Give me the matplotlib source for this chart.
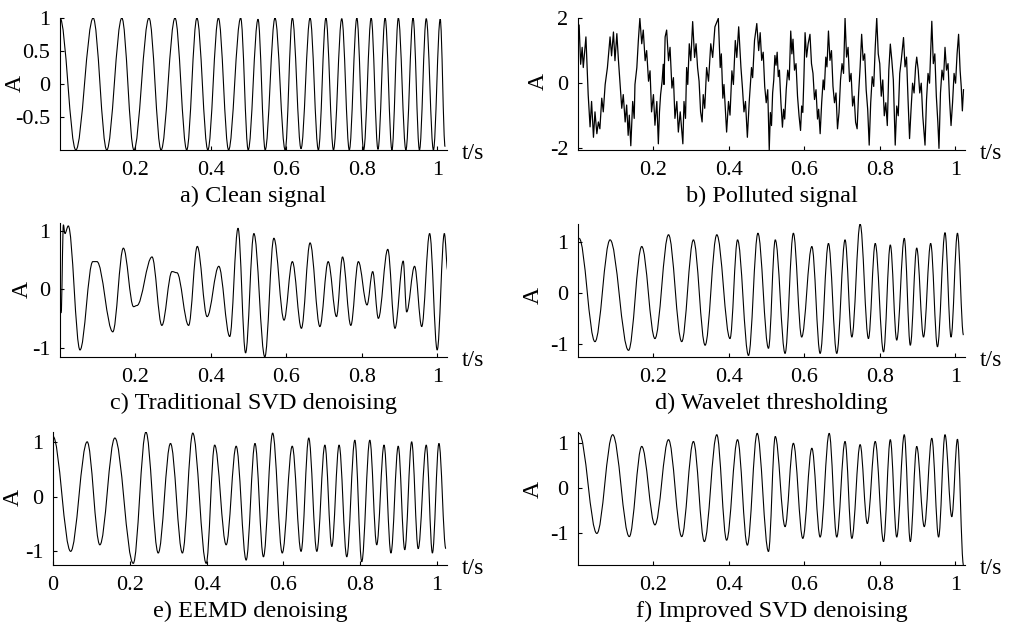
import matplotlib
matplotlib.use('Agg')
import matplotlib.pyplot as plt
from matplotlib.path import Path
from matplotlib.patches import PathPatch

plt.rcParams['font.family'] = ['Liberation Serif', 'DejaVu Serif']
plt.rcParams['font.size'] = 16

# a) clean signal: peak / trough times and amplitudes
t_clean = [0, 0.042, 0.088, 0.124, 0.164, 0.196, 0.236, 0.268, 0.305, 0.336, 0.363, 0.392,
           0.420, 0.447, 0.479, 0.499, 0.525, 0.544, 0.570, 0.597, 0.616, 0.639, 0.663, 0.685,
           0.705, 0.725, 0.747, 0.767, 0.787, 0.805, 0.825, 0.843, 0.862, 0.880, 0.897, 0.917,
           0.936, 0.953, 0.971, 0.990, 1.008, 1.021]
a_clean = [1.0, -1.0, 1.0, -1.0, 1.0, -1.0, 1.0, -1.0, 1.0, -1.0, 1.0, -1.0,
           1.0, -1.0, 1.0, -1.0, 0.98, -1.0, 1.0, -1.0, 1.0, -0.98, 1.0, -1.0,
           1.0, -1.0, 0.99, -1.0, 1.0, -1.0, 1.0, -0.99, 1.0, -1.0, 1.0, -1.0,
           1.0, -1.0, 0.99, -1.0, 0.98, -0.95]

# b) polluted signal
t_polluted = [0.003, 0.007, 0.011, 0.014, 0.021, 0.027, 0.032, 0.036, 0.041, 0.045, 0.050, 0.054,
              0.058, 0.063, 0.067, 0.072, 0.078, 0.085, 0.089, 0.094, 0.098, 0.103, 0.107, 0.111,
              0.116, 0.120, 0.125, 0.129, 0.133, 0.136, 0.140, 0.145, 0.149, 0.151, 0.156, 0.160,
              0.164, 0.169, 0.173, 0.178, 0.182, 0.187, 0.191, 0.195, 0.200, 0.204, 0.209, 0.213,
              0.216, 0.219, 0.223, 0.226, 0.228, 0.231, 0.235, 0.240, 0.244, 0.249, 0.253, 0.257,
              0.262, 0.266, 0.271, 0.278, 0.281, 0.285, 0.288, 0.291, 0.295, 0.299, 0.304, 0.309,
              0.313, 0.317, 0.321, 0.325, 0.329, 0.332, 0.336, 0.341, 0.346, 0.352, 0.357, 0.363,
              0.372, 0.377, 0.380, 0.384, 0.387, 0.394, 0.399, 0.403, 0.408, 0.412, 0.417, 0.421,
              0.426, 0.432, 0.436, 0.440, 0.444, 0.449, 0.454, 0.460, 0.463, 0.468, 0.474, 0.479,
              0.483, 0.487, 0.491, 0.495, 0.499, 0.503, 0.507, 0.510, 0.513, 0.516, 0.519, 0.522,
              0.525, 0.528, 0.531, 0.534, 0.538, 0.542, 0.545, 0.548, 0.552, 0.556, 0.560, 0.564,
              0.567, 0.570, 0.574, 0.578, 0.582, 0.586, 0.590, 0.593, 0.596, 0.599, 0.602, 0.606,
              0.610, 0.615, 0.619, 0.623, 0.627, 0.631, 0.635, 0.638, 0.642, 0.646, 0.650, 0.653,
              0.657, 0.660, 0.664, 0.668, 0.672, 0.676, 0.680, 0.684, 0.688, 0.692, 0.696, 0.700,
              0.704, 0.708, 0.712, 0.716, 0.720, 0.724, 0.728, 0.732, 0.736, 0.740, 0.744, 0.748,
              0.752, 0.756, 0.760, 0.764, 0.768, 0.772, 0.776, 0.780, 0.784, 0.788, 0.792, 0.796,
              0.800, 0.804, 0.808, 0.812, 0.816, 0.820, 0.824, 0.828, 0.832, 0.836, 0.841, 0.845,
              0.849, 0.853, 0.857, 0.863, 0.867, 0.871, 0.875, 0.879, 0.883, 0.887, 0.891, 0.895,
              0.898, 0.902, 0.906, 0.910, 0.914, 0.920, 0.924, 0.928, 0.932, 0.938, 0.942, 0.946,
              0.950, 0.954, 0.957, 0.961, 0.965, 0.969, 0.973, 0.977, 0.981, 0.985, 0.989, 0.993,
              0.997, 1.001, 1.005, 1.009, 1.013, 1.016, 1.019, 1.022]
a_polluted = [1.78, 0.58, 1.10, 0.48, 1.42, -0.35, -1.34, -0.56, -1.66, -0.88, -1.55, -1.19,
              -1.40, -0.46, -0.88, -0.04, 0.48, 1.42, 0.84, 1.57, 0.69, 1.52, 0.74, 0.06,
              -0.77, -0.35, -1.19, -0.67, -1.60, -0.98, -1.92, -0.56, -1.08, -0.04, 0.48, 1.31,
              1.99, 1.21, 1.63, 0.69, 1.00, 0.06, 0.38, -0.88, -0.35, -1.29, -0.56, -1.86,
              -0.88, -0.35, 0.06, 0.58, -0.04, 1.42, 1.63, 0.69, 1.10, -0.15, 0.17, -1.08,
              -0.56, -1.50, -0.88, -1.86, -0.56, -1.08, 0.48, -0.04, 1.21, 0.69, 1.89, 0.79,
              1.21, 0.48, 0.06, -0.88, -1.19, -0.35, -0.77, 0.48, 0.06, 1.21, 0.79, 1.73,
              1.99, 0.48, 0.90, -0.46, -0.04, -1.50, -0.56, -0.98, 0.38, -0.04, 1.31, 0.79,
              1.73, 0.48, -0.15, -0.88, -0.56, -1.66, -0.56, 0.48, 0.17, 1.31, 1.83, 1.00,
              1.55, 0.70, 0.95, -0.10, -0.60, -0.20, -2.05, -0.90, -1.30, -0.30, 0.10, 0.85,
              0.55, 0.95, 0.20, 0.40, -0.60, -1.35, -0.80, -1.10, -0.20, 0.40, 0.10, 1.60,
              0.90, 1.35, 0.40, 0.60, -0.40, -1.00, -1.45, -0.70, -0.90, 0.20, 1.55, 0.80,
              1.20, 1.50, 0.60, 0.30, -0.50, -0.20, -1.10, -0.80, -1.55, -0.60, 0.10, -0.20,
              0.80, 0.50, 1.60, 0.70, 1.00, -0.10, -0.60, -0.30, -1.40, -0.90, 0.10, 0.60,
              0.30, 2.00, 0.80, 1.10, 0.05, 0.30, -0.70, -0.40, -1.20, -1.40, -0.30, 0.50,
              1.50, 0.70, 0.90, -0.20, -0.80, -1.90, -0.60, 0.20, -0.10, 1.10, 2.00, 0.90,
              0.60, -0.40, 0.10, -1.00, -0.60, -1.30, 0.40, 1.20, 0.70, 0.10, -1.90, -0.70,
              -1.00, 0.30, 0.70, 1.40, 0.50, 0.80, -0.50, -1.70, -0.80, 0.00, -0.30, 0.50,
              0.80, 0.40, -0.30, 0.00, -1.00, -1.90, -0.50, 0.30, 0.00, 1.90, 0.60, 0.90,
              -0.40, -1.20, -2.00, -0.30, 0.40, 0.10, 1.10, 0.40, 0.60, -0.50, -1.30, -0.60,
              0.30, 0.00, 0.90, 1.50, 0.40, -0.10, -0.85, -0.20]

# c) traditional SVD denoising
t_svd = [0.003, 0.009, 0.013, 0.022, 0.053, 0.087, 0.098, 0.140, 0.168, 0.195, 0.204, 0.244,
         0.270, 0.297, 0.310, 0.341, 0.364, 0.390, 0.421, 0.450, 0.472, 0.492, 0.514, 0.543,
         0.567, 0.594, 0.616, 0.640, 0.663, 0.689, 0.711, 0.733, 0.749, 0.771, 0.791, 0.814,
         0.829, 0.844, 0.869, 0.888, 0.910, 0.919, 0.940, 0.959, 0.980, 1.000, 1.019, 1.028]
a_svd = [-0.41, 1.10, 0.95, 1.08, -1.04, 0.47, 0.47, -0.73, 0.70, -0.30, -0.28, 0.55,
         -0.62, 0.30, 0.28, -0.62, 0.73, -0.47, 0.39, -0.81, 1.04, -1.09, 0.95, -1.16,
         0.87, -0.53, 0.47, -0.67, 0.79, -0.64, 0.47, -0.47, 0.55, -0.62, 0.47, -0.27,
         0.30, -0.50, 0.68, -0.67, 0.48, -0.39, 0.39, -0.64, 0.95, -1.04, 0.95, 0.32]

# d) wavelet thresholding
t_wav = [0.003, 0.045, 0.085, 0.134, 0.169, 0.204, 0.240, 0.275, 0.306, 0.337, 0.368, 0.403,
         0.423, 0.452, 0.477, 0.505, 0.523, 0.549, 0.571, 0.593, 0.620, 0.642, 0.664, 0.686,
         0.708, 0.726, 0.748, 0.770, 0.788, 0.810, 0.828, 0.845, 0.865, 0.881, 0.898, 0.916,
         0.935, 0.953, 0.973, 0.989, 1.006, 1.022]
a_wav = [1.07, -0.95, 1.04, -1.12, 0.91, -0.89, 1.14, -0.95, 1.04, -1.02, 1.14, -0.89,
         1.04, -1.22, 1.17, -1.08, 1.04, -1.18, 1.17, -0.86, 0.91, -1.18, 0.97, -1.18,
         1.04, -0.86, 1.35, -0.89, 0.97, -1.15, 0.94, -0.92, 1.07, -1.02, 0.88, -0.86,
         0.97, -1.05, 1.18, -0.86, 1.17, -0.82]

# e) EEMD denoising
t_eemd = [0.000, 0.046, 0.089, 0.122, 0.161, 0.209, 0.242, 0.274, 0.306, 0.337, 0.364, 0.399,
          0.421, 0.451, 0.477, 0.503, 0.526, 0.548, 0.572, 0.597, 0.623, 0.646, 0.666, 0.687,
          0.708, 0.726, 0.745, 0.765, 0.786, 0.804, 0.825, 0.843, 0.862, 0.880, 0.899, 0.916,
          0.934, 0.951, 0.972, 0.988, 1.005, 1.023]
a_eemd = [1.11, -1.00, 1.01, -0.88, 1.08, -1.22, 1.19, -1.03, 0.98, -1.03, 1.17, -1.22,
          0.95, -0.88, 0.93, -1.16, 0.98, -1.10, 1.17, -1.03, 0.93, -1.00, 1.08, -1.00,
          0.95, -0.91, 0.95, -1.10, 1.04, -1.19, 1.04, -0.88, 0.95, -1.03, 0.93, -0.97,
          1.01, -0.95, 0.95, -1.03, 0.98, -0.95]

# f) improved SVD denoising
t_isvd = [0.003, 0.050, 0.092, 0.136, 0.169, 0.204, 0.240, 0.275, 0.306, 0.335, 0.368, 0.394,
          0.423, 0.449, 0.475, 0.505, 0.523, 0.549, 0.571, 0.596, 0.620, 0.642, 0.666, 0.686,
          0.708, 0.726, 0.748, 0.767, 0.788, 0.810, 0.828, 0.845, 0.865, 0.881, 0.898, 0.918,
          0.938, 0.956, 0.973, 0.991, 1.006, 1.022]
a_isvd = [1.21, -1.01, 1.18, -1.08, 0.92, -0.82, 1.07, -1.08, 1.03, -1.19, 1.18, -1.16,
          1.07, -1.27, 1.21, -1.41, 1.14, -0.86, 0.99, -1.12, 0.88, -1.09, 1.21, -1.09,
          1.03, -1.12, 0.96, -0.79, 1.03, -1.19, 1.07, -1.09, 1.18, -1.19, 0.92, -0.86,
          1.10, -1.09, 1.18, -0.64, 1.08, -1.71]

panels = [
    # t, A, smooth, rect (px: left, top, right, bottom), ylim, yticks, xticks,
    # y-label position (px), caption
    (t_clean, a_clean, True, (60, 18, 447, 150), (-1.0, 1.0), [-0.5, 0, 0.5, 1],
     [0.2, 0.4, 0.6, 0.8, 1], (15, 83), 'a) Clean signal'),
    (t_polluted, a_polluted, False, (578, 18, 965, 150), (-2.05, 2.0), [-2, 0, 2],
     [0.2, 0.4, 0.6, 0.8, 1], (538, 82), 'b) Polluted signal'),
    (t_svd, a_svd, True, (60, 223, 447, 357), (-1.16, 1.13), [-1, 0, 1],
     [0.2, 0.4, 0.6, 0.8, 1], (22, 290), 'c) Traditional SVD denoising'),
    (t_wav, a_wav, True, (578, 224, 965, 357), (-1.25, 1.35), [-1, 0, 1],
     [0.2, 0.4, 0.6, 0.8, 1], (533, 295), 'd) Wavelet thresholding'),
    (t_eemd, a_eemd, True, (53, 432, 447, 565), (-1.25, 1.19), [-1, 0, 1],
     [0, 0.2, 0.4, 0.6, 0.8, 1], (13, 497), 'e) EEMD denoising'),
    (t_isvd, a_isvd, True, (578, 432, 965, 565), (-1.71, 1.24), [-1, 0, 1],
     [0.2, 0.4, 0.6, 0.8, 1], (533, 490), 'f) Improved SVD denoising'),
]


def smooth_path(t, amp, k=0.36):
    # cubic segments with flat tangents at every point, so peaks and
    # troughs come out rounded like a sampled sine
    verts = [(t[0], amp[0])]
    codes = [Path.MOVETO]
    for i in range(len(t) - 1):
        dt = t[i + 1] - t[i]
        verts += [(t[i] + k * dt, amp[i]), (t[i + 1] - k * dt, amp[i + 1]), (t[i + 1], amp[i + 1])]
        codes += [Path.CURVE4] * 3
    return Path(verts, codes)


W, H = 1016, 625
fig = plt.figure(figsize=(W / 100, H / 100), dpi=100)

for t, amp, smooth, (x0, y0, x1, y1), ylim, yticks, xticks, (lx, ly), caption in panels:
    ax = fig.add_axes([x0 / W, 1 - y1 / H, (x1 - x0) / W, (y1 - y0) / H])
    if smooth:
        ax.add_patch(PathPatch(smooth_path(t, amp), fill=False, edgecolor='black', lw=0.8))
    else:
        ax.plot(t, amp, color='black', lw=0.9)
    ax.set_xlim(0, 1.026)
    ax.set_ylim(*ylim)
    ax.set_xticks(xticks)
    ax.set_xticklabels(['%g' % v for v in xticks])
    ax.set_yticks(yticks)
    ax.set_yticklabels(['%g' % v for v in yticks])
    ax.spines['top'].set_visible(False)
    ax.spines['right'].set_visible(False)
    ax.tick_params(direction='in', length=3, width=0.8, pad=7)
    ax.tick_params(axis='x', pad=8)
    fig.text(lx / W, 1 - ly / H, 'A', rotation=90, ha='center', va='center', fontsize=17)
    # axis unit at the end of the time axis, caption underneath
    fig.text((x1 + 26) / W, 1 - (y1 + 4) / H, 't/s', ha='center', va='center', fontsize=17)
    fig.text((x0 + x1) / 2 / W, 1 - (y1 + 46) / H, caption, ha='center', va='center',
             fontsize=17.5)

fig.savefig('out.png', dpi=100)
